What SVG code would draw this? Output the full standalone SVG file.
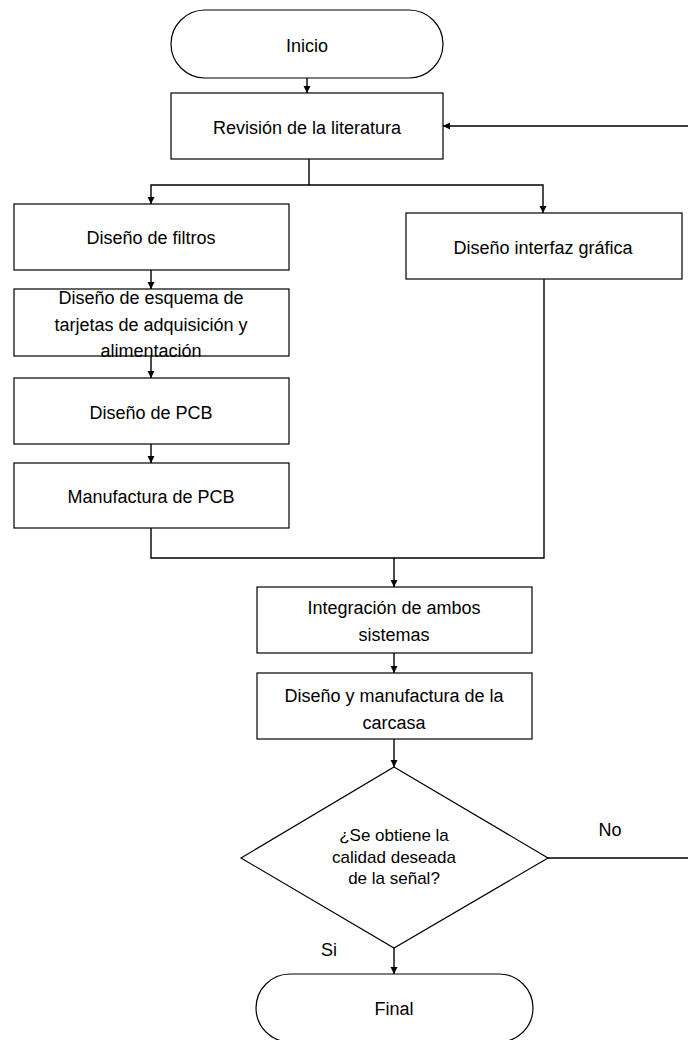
<svg xmlns="http://www.w3.org/2000/svg" width="688" height="1040" viewBox="0 0 688 1040">
<style>
.s{fill:#fff;stroke:#000;stroke-width:1.2}
.c{fill:none;stroke:#000;stroke-width:1.4}
.t{font-family:"Liberation Sans",Arial,sans-serif;font-size:18px;fill:#000;text-anchor:middle;dominant-baseline:central}
.d{font-size:17px}
</style>
<defs>
<marker id="a" markerWidth="8" markerHeight="8" refX="7" refY="4" orient="auto" markerUnits="userSpaceOnUse">
<path d="M0,0.5 L7,4 L0,7.5 Z" fill="#000"/>
</marker>
</defs>
<rect width="688" height="1040" fill="#fff"/>
<g id="connectors">
<path class="c" d="M307,78 V93" marker-end="url(#a)"/>
<path class="c" d="M690,858 H548 M690,858 V126 H443" marker-end="url(#a)"/>
<path class="c" d="M309,159 V185 H151 V204" marker-end="url(#a)"/>
<path class="c" d="M309,185 H543 V213" marker-end="url(#a)"/>
<path class="c" d="M151,270 V289" marker-end="url(#a)"/>
<path class="c" d="M151,356 V378" marker-end="url(#a)"/>
<path class="c" d="M151,444 V463" marker-end="url(#a)"/>
<path class="c" d="M151,528 V558 H394 V587" marker-end="url(#a)"/>
<path class="c" d="M544,279 V558 H394"/>
<path class="c" d="M394,653 V673" marker-end="url(#a)"/>
<path class="c" d="M394,739 V767" marker-end="url(#a)"/>
<path class="c" d="M394,948 V974" marker-end="url(#a)"/>
</g>
<g id="inicio">
<rect class="s" x="171" y="10" width="272" height="68" rx="34"/>
<text class="t" x="307" y="46">Inicio</text>
</g>
<g id="revision">
<rect class="s" x="171" y="93" width="272" height="66"/>
<text class="t" x="307" y="128">Revisión de la literatura</text>
</g>
<g id="filtros">
<rect class="s" x="14" y="204" width="275" height="66"/>
<text class="t" x="151" y="238">Diseño de filtros</text>
</g>
<g id="esquema">
<rect class="s" x="14" y="289" width="275" height="67"/>
<text class="t" x="151" y="298">Diseño de esquema de</text>
<text class="t" x="151" y="325">tarjetas de adquisición y</text>
<text class="t" x="151" y="351">alimentación</text>
</g>
<g id="pcb">
<rect class="s" x="14" y="378" width="275" height="66"/>
<text class="t" x="151" y="413">Diseño de PCB</text>
</g>
<g id="manufactura">
<rect class="s" x="14" y="463" width="275" height="65"/>
<text class="t" x="151" y="497">Manufactura de PCB</text>
</g>
<g id="interfaz">
<rect class="s" x="406" y="213" width="276" height="66"/>
<text class="t" x="543" y="248">Diseño interfaz gráfica</text>
</g>
<g id="integracion">
<rect class="s" x="257" y="587" width="275" height="66"/>
<text class="t" x="394" y="608">Integración de ambos</text>
<text class="t" x="394" y="635">sistemas</text>
</g>
<g id="carcasa">
<rect class="s" x="257" y="673" width="275" height="66"/>
<text class="t" x="394" y="696">Diseño y manufactura de la</text>
<text class="t" x="394" y="723">carcasa</text>
</g>
<g id="decision">
<polygon class="s" points="394,767 548,858 394,948 241,858"/>
<text class="t d" x="394" y="835">¿Se obtiene la</text>
<text class="t d" x="394" y="857">calidad deseada</text>
<text class="t d" x="394" y="878">de la señal?</text>
</g>
<g id="labels">
<text class="t" x="610" y="830">No</text>
<text class="t" x="329" y="950">Si</text>
</g>
<g id="final">
<rect class="s" x="256" y="974" width="277" height="68" rx="34"/>
<text class="t" x="394" y="1009">Final</text>
</g>
</svg>
